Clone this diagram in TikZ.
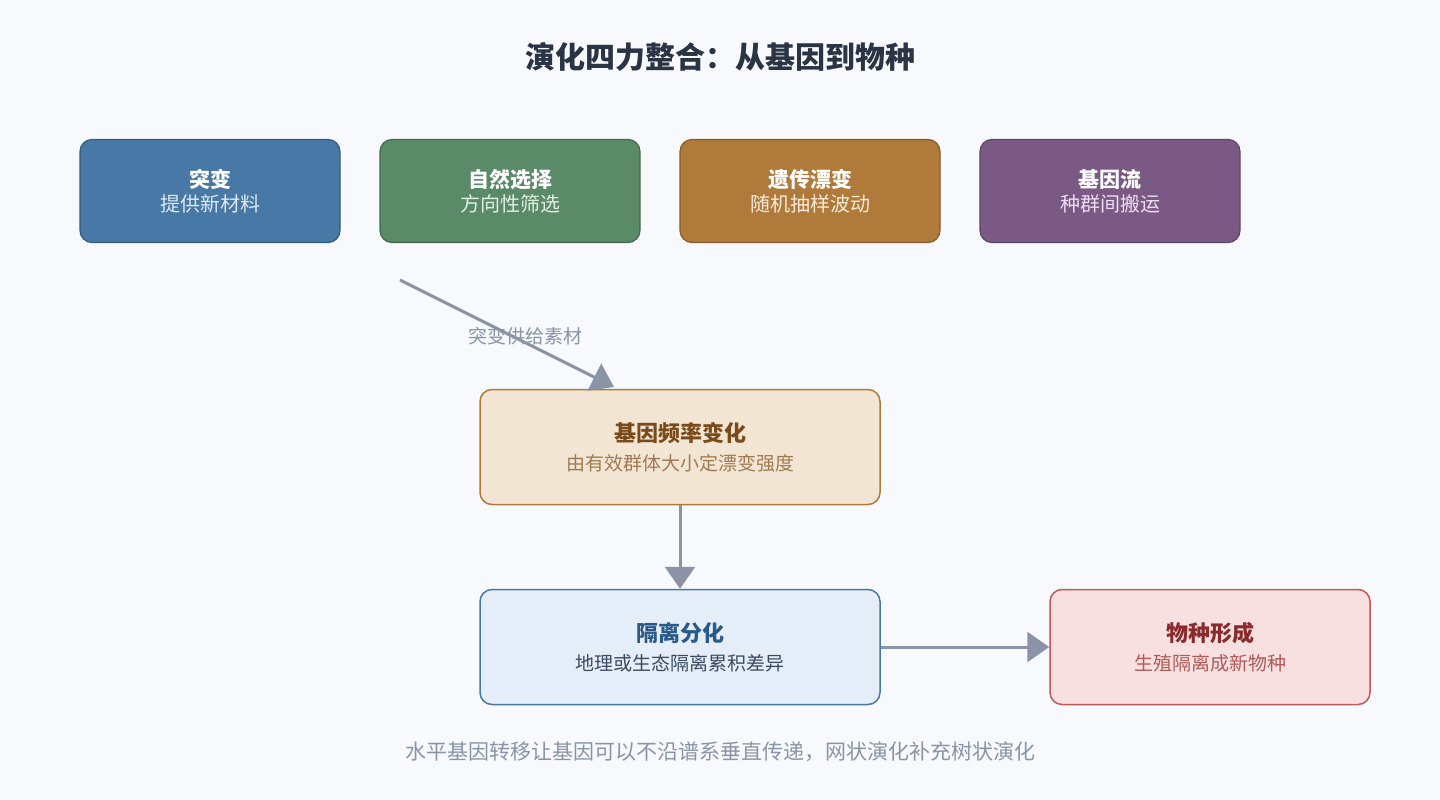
\documentclass[tikz,border=0pt]{standalone}
\usepackage{fontspec}
\setmainfont{Noto Sans CJK SC}
\usetikzlibrary{arrows.meta}
\definecolor{bg}{HTML}{F7F9FC}
\definecolor{arr}{HTML}{8A94A6}
\definecolor{ttl}{HTML}{2A3445}
\definecolor{c1}{HTML}{4878A6}\definecolor{c2}{HTML}{5A8A68}\definecolor{c3}{HTML}{B07A3A}\definecolor{c4}{HTML}{7A5A85}
\definecolor{fqf}{HTML}{F3E5D3}\definecolor{isf}{HTML}{E5EEF8}
\definecolor{spd}{HTML}{C05A5A}\definecolor{spf}{HTML}{F8E0E0}
\begin{document}
\begin{tikzpicture}[x=1pt,y=-1pt,
 top/.style={draw=#1!75!black,fill=#1,rounded corners=12pt,line width=1.2pt,minimum width=260pt,minimum height=103pt,align=center,text=white},
 low/.style={rounded corners=12pt,line width=1.5pt,minimum width=400pt,minimum height=115pt,align=center},
 con/.style={draw=arr,line width=3pt,-{Triangle[length=22pt,width=30pt]}}]
\fill[bg] (0,0) rectangle (1440,800);
\node[font=\fontsize{30}{36}\selectfont\bfseries,text=ttl] (title) at (720,57) {演化四力整合：从基因到物种};
\node[top=c1] (mut) at (210,191) {{\fontsize{21}{26}\selectfont\bfseries 突变}\\[4pt]{\fontsize{20}{26}\selectfont\color[HTML]{DDE8F5}提供新材料}};
\node[top=c2] (sel) at (510,191) {{\fontsize{21}{26}\selectfont\bfseries 自然选择}\\[4pt]{\fontsize{20}{26}\selectfont\color[HTML]{E0F0E3}方向性筛选}};
\node[top=c3] (drift) at (810,191) {{\fontsize{21}{26}\selectfont\bfseries 遗传漂变}\\[4pt]{\fontsize{20}{26}\selectfont\color[HTML]{F8EBD8}随机抽样波动}};
\node[top=c4] (flow) at (1110,191) {{\fontsize{21}{26}\selectfont\bfseries 基因流}\\[4pt]{\fontsize{20}{26}\selectfont\color[HTML]{EEDDF3}种群间搬运}};
\node[low,draw=c3,fill=fqf] (freq) at (680,447) {{\fontsize{22}{26}\selectfont\bfseries\color[HTML]{7A4A1A}基因频率变化}\\[10pt]{\fontsize{19}{24}\selectfont\color[HTML]{A07A50}由有效群体大小定漂变强度}};
\node[low,draw=c1,fill=isf] (iso) at (680,647) {{\fontsize{22}{26}\selectfont\bfseries\color[HTML]{2A5A8A}隔离分化}\\[10pt]{\fontsize{19}{24}\selectfont\color[HTML]{3A4A60}地理或生态隔离累积差异}};
\node[low,minimum width=320pt,draw=spd,fill=spf] (spec) at (1210,647) {{\fontsize{22}{26}\selectfont\bfseries\color[HTML]{8A2A2A}物种形成}\\[10pt]{\fontsize{19}{24}\selectfont\color[HTML]{B05A5A}生殖隔离成新物种}};
\coordinate (s1) at (400,280);
\coordinate (e1) at (614,387);
\draw[con] (s1) -- (e1);
\node[font=\fontsize{19}{24}\selectfont,text=arr] (lab) at (525,336) {突变供给素材};
\draw[con] (freq.south) -- (iso.north);
\draw[con] (iso.east) -- (spec.west);
\node[font=\fontsize{21}{26}\selectfont,text=arr] (foot) at (720,752) {水平基因转移让基因可以不沿谱系垂直传递，网状演化补充树状演化};
\end{tikzpicture}
\end{document}
